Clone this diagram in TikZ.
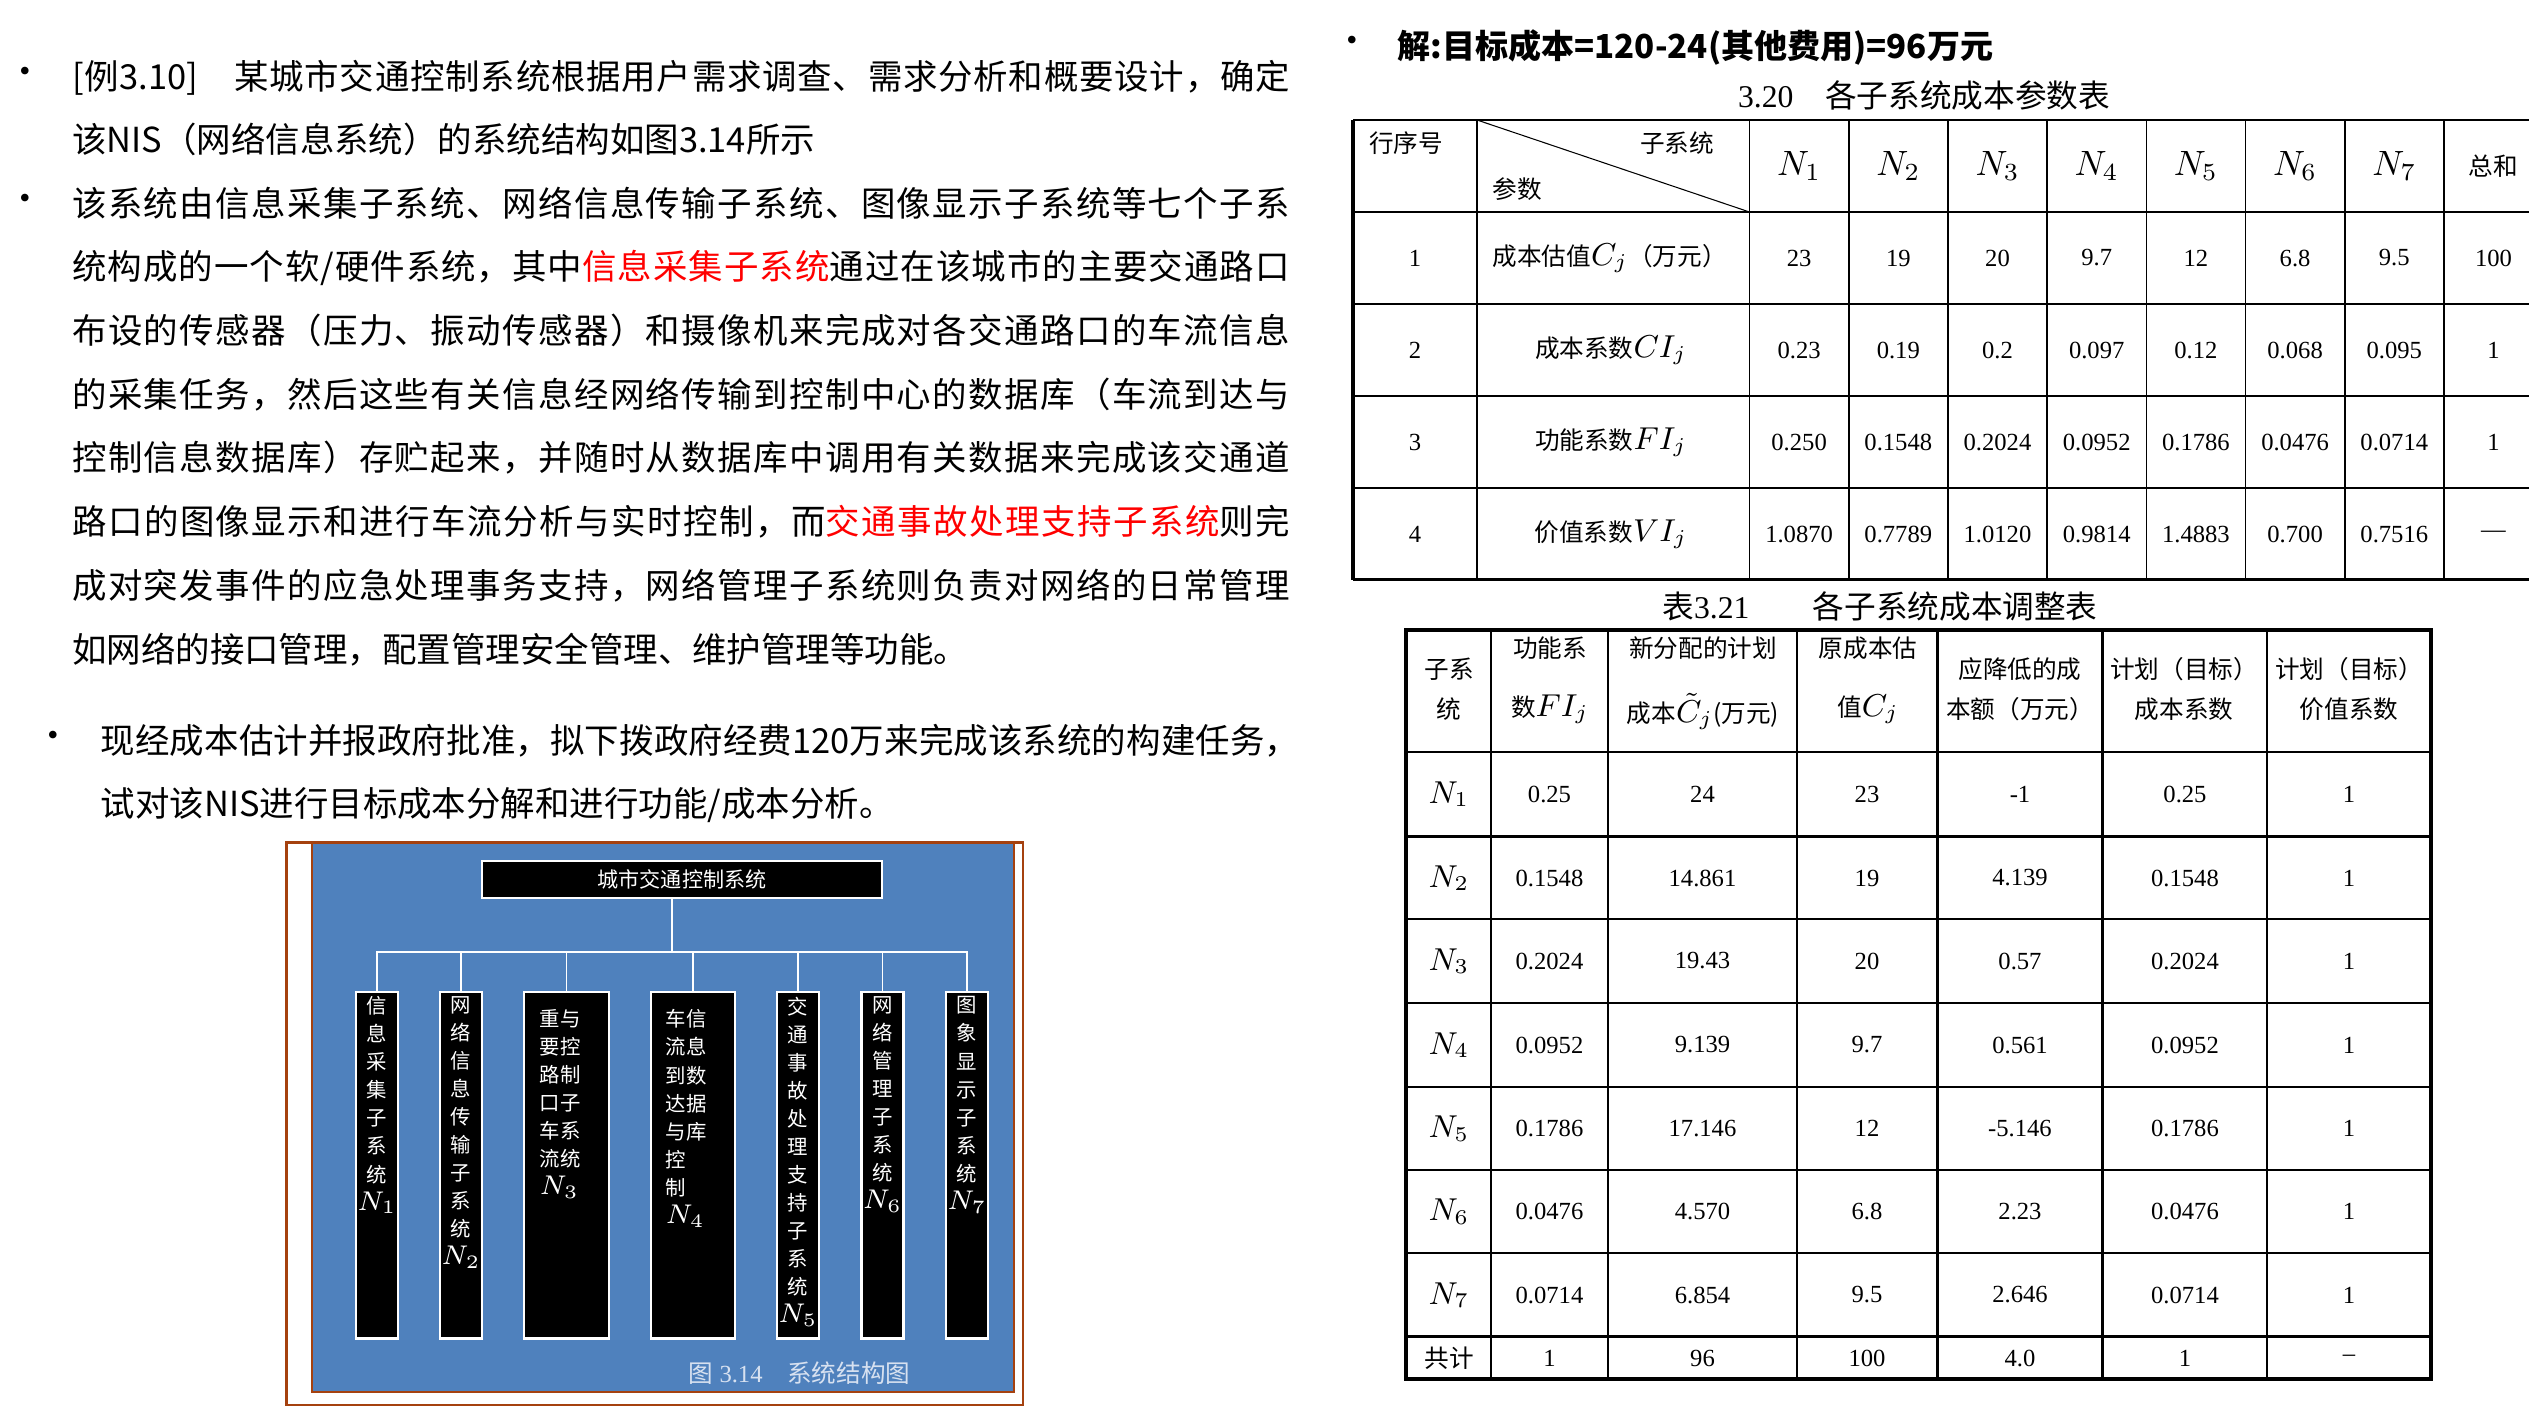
\RequirePackage{fix-cm}
\documentclass[tikz,border=0pt]{standalone}
\usepackage{fontspec}
\setmainfont{Liberation Serif}
\newfontfamily\cjk{Noto Sans CJK SC}
\definecolor{chartblue}{HTML}{4F81BD}
\definecolor{framebrown}{RGB}{165,65,15}
\definecolor{capgray}{RGB}{215,225,240}
% classes and stretch between CJK characters, used for the justified lines
\newcount\cjkcode
\cjkcode="4E00
\loop
  \XeTeXcharclass\cjkcode=1
  \advance\cjkcode by 1
\ifnum\cjkcode<"9FA6
\repeat
\XeTeXcharclass"3000=1
\XeTeXcharclass"FF08=2
\XeTeXcharclass"FF09=3
\XeTeXcharclass"FF0C=3
\XeTeXcharclass"3001=3
\XeTeXcharclass"3002=3
\XeTeXinterchartoks 1 1 = {\hskip 0pt plus 1pt}
\XeTeXinterchartoks 1 2 = {\hskip 0pt plus 1pt}
\XeTeXinterchartoks 1 3 = {\hskip 0pt plus 1pt}
\XeTeXinterchartoks 2 1 = {\hskip 0pt plus 1pt}
\XeTeXinterchartoks 3 1 = {\hskip 0pt plus 1pt}
\XeTeXinterchartoks 3 2 = {\hskip 0pt plus 1pt}
\XeTeXinterchartoks 3 3 = {\hskip 0pt plus 1pt}
\XeTeXinterchartoks 0 1 = {\hskip 0pt plus 1pt}
\XeTeXinterchartoks 1 0 = {\hskip 0pt plus 1pt}
\XeTeXinterchartoks 0 2 = {\hskip 0pt plus 1pt}
\XeTeXinterchartoks 3 0 = {\hskip 0pt plus 1pt}
\newcommand\jline[2]{\hbox to #1{\XeTeXinterchartokenstate=1 #2}}
\newcommand\hot[1]{\textcolor{red}{#1}}
\newcommand\Nsym[1]{{\fontsize{7.7}{7.97}\selectfont$N_{#1}$}}
\newcommand\Nhead[1]{{\fontsize{10}{11}\selectfont$N_{#1}$}}
\newcommand\Nrow[1]{{\fontsize{9}{10}\selectfont$N_{#1}$}}
\newcommand\mbig[1]{{\fontsize{9}{10}\selectfont$#1$}}
\tikzset{every node/.style={inner sep=0pt},
  para/.style={anchor=base west,font=\cjk\fontsize{9.8}{12}\selectfont},
  headline/.style={anchor=base west,font=\cjk\bfseries\fontsize{9.4}{12}\selectfont},
  bul/.style={font=\fontsize{9}{10}\selectfont},
  topbox/.style={draw=white,fill=black,line width=0.7pt,text=white,minimum width=4cm,minimum height=0.37cm,font=\cjk\fontsize{6}{7}\selectfont},
  subbox/.style={draw=white,fill=black,line width=0.7pt,minimum height=3.465cm,anchor=north},
  vtext/.style={anchor=north,align=center,text=white,font=\cjk\fontsize{5.8}{7.97}\selectfont},
  wire/.style={draw=white,line width=0.5pt},
  figcap/.style={text=capgray,font=\fontsize{7}{8}\selectfont},
  capt/.style={font=\fontsize{9}{10}\selectfont},
  tcell/.style={font=\fontsize{7}{8}\selectfont},
  ccell/.style={font=\cjk\fontsize{7}{8}\selectfont},
  tabrule/.style={line width=0.45pt},
  tabmid/.style={line width=0.7pt},
  tabthick/.style={line width=0.9pt}}

\begin{document}
\begin{tikzpicture}[x=0.01cm,y=-0.01cm]
\useasboundingbox (0,0) rectangle (2529,1406);
\fill[white] (0,0) rectangle (2529,1406);

% left text
\node[bul] (b1) at (25,74) {\textbullet};
\node[para] (p1) at (71.5,89) {\jline{12.17cm}{[例3.10]　某城市交通控制系统根据用户需求调查、需求分析和概要设计，确定}};
\node[para] (p2) at (71.5,152) {该NIS（网络信息系统）的系统结构如图3.14所示};
\node[bul] (b2) at (25,201) {\textbullet};
\node[para] (p3) at (71.5,216) {\jline{12.17cm}{该系统由信息采集子系统、网络信息传输子系统、图像显示子系统等七个子系}};
\node[para] (p4) at (71.5,279.5) {\jline{12.17cm}{统构成的一个软/硬件系统，其中\hot{信息采集子系统}通过在该城市的主要交通路口}};
\node[para] (p5) at (71.5,343) {\jline{12.17cm}{布设的传感器（压力、振动传感器）和摄像机来完成对各交通路口的车流信息}};
\node[para] (p6) at (71.5,407) {\jline{12.17cm}{的采集任务，然后这些有关信息经网络传输到控制中心的数据库（车流到达与}};
\node[para] (p7) at (71.5,470.6) {\jline{12.17cm}{控制信息数据库）存贮起来，并随时从数据库中调用有关数据来完成该交通道}};
\node[para] (p8) at (71.5,534) {\jline{12.17cm}{路口的图像显示和进行车流分析与实时控制，而\hot{交通事故处理支持子系统}则完}};
\node[para] (p9) at (71.5,598) {\jline{12.17cm}{成对突发事件的应急处理事务支持，网络管理子系统则负责对网络的日常管理}};
\node[para] (p10) at (71.5,662) {如网络的接口管理，配置管理安全管理、维护管理等功能。};
\node[bul] (b3) at (53,738) {\textbullet};
\node[para] (p11) at (100,753) {\jline{11.98cm}{现经成本估计并报政府批准，拟下拨政府经费120万来完成该系统的构建任务，}};
\node[para] (p12) at (100,816) {试对该NIS进行目标成本分解和进行功能/成本分析。};

% structure chart
\fill[chartblue] (312,842.5) rectangle (1014,1392);
\draw[framebrown,line width=0.6pt] (286.5,842.5) rectangle (1023,1405);
\draw[framebrown,line width=0.6pt] (312,842.5) rectangle (1014,1392);
\node[topbox] (sys) at (682,879.5) {城市交通控制系统};
\foreach \n/\x/\w in {1/377/0.42cm,2/461/0.42cm,3/566.5/0.85cm,4/693/0.84cm,5/798/0.415cm,6/882.5/0.42cm,7/967/0.42cm}
  \node[subbox,minimum width=\w] (n\n) at (\x,990.5) {};
\coordinate (hub) at (672,952);
\draw[wire] (sys.south -| hub) -- (hub);
\draw[wire] (n1.north) |- (hub) -| (n7.north);
\foreach \n in {2,...,6}
  \draw[wire] (n\n.north) -- (n\n.north |- hub);
\node[vtext] (t1) at (377,996) {信\\息\\采\\集\\子\\系\\统\\\Nsym{1}};
\node[vtext] (t2) at (461,996) {网\\络\\信\\息\\传\\输\\子\\系\\统\\\Nsym{2}};
\node[vtext,anchor=north west,align=left] (t3) at (539,1009) {重与\\要控\\路制\\口子\\车系\\流统\\\Nsym{3}};
\node[vtext,anchor=north west,align=left] (t4) at (665,1009) {车信\\流息\\到数\\达据\\与库\\控\\制\\\Nsym{4}};
\node[vtext] (t5) at (798,996) {交\\通\\事\\故\\处\\理\\支\\持\\子\\系\\统\\\Nsym{5}};
\node[vtext] (t6) at (882.5,996) {网\\络\\管\\理\\子\\系\\统\\\Nsym{6}};
\node[vtext] (t7) at (967,996) {图\\象\\显\\示\\子\\系\\统\\\Nsym{7}};
\node[figcap] (cap) at (799.5,1373) {{\cjk 图} 3.14{\cjk 　系统结构图}};

% solution and table 3.20
\node[bul] (b4) at (1352,43) {\textbullet};
\node[headline] (sol) at (1397,58) {解:目标成本=120-24(其他费用)=96万元};
\node[capt] (cap1) at (1924,95) {3.20{\cjk 　各子系统成本参数表}};
\foreach \y in {120,212,304,396,488,579.5}
  \draw[tabmid] (1353,\y) -- (2529,\y);
\draw[tabthick] (1353,120) -- (1353,579.5);
\foreach \x in {1477,1749.5,1848.7,1947.9,2047.1,2146.3,2245.5,2344.7,2443.9}
  \draw[tabrule] (\x,120) -- (\x,579.5);
\draw[line width=0.3pt] (1477,120) -- (1749.5,212);
\node[ccell] (hno) at (1406,143) {行序号};
\node[ccell] (hsub) at (1677,143) {子系统};
\node[ccell] (hpar) at (1517,189) {参数};
\foreach \i in {1,...,7}
  \node[tcell] (hn\i) at ({1799.1+99.2*(\i-1)},166) {\Nhead{\i}};
\node[ccell] (hsum) at (2493.5,166) {总和};
\foreach \r/\y in {1/258,2/350,3/442,4/534}
  \node[tcell] (no\r) at (1415,\y) {\r};
\node[ccell,anchor=west] (lab1) at (1492,258) {成本估值\mbig{C_j}（万元）};
\node[ccell] (lab2) at (1611,350) {成本系数\mbig{CI_j}};
\node[ccell] (lab3) at (1611,442) {功能系数\mbig{FI_j}};
\node[ccell] (lab4) at (1611,534) {价值系数\mbig{VI_j}};
\foreach \v [count=\i] in {23,19,20,9.7,12,6.8,9.5,100}
  \node[tcell] (ca\i) at ({1799.1+99.2*(\i-1)},258) {\v};
\foreach \v [count=\i] in {0.23,0.19,0.2,0.097,0.12,0.068,0.095,1}
  \node[tcell] (cb\i) at ({1799.1+99.2*(\i-1)},350) {\v};
\foreach \v [count=\i] in {0.250,0.1548,0.2024,0.0952,0.1786,0.0476,0.0714,1}
  \node[tcell] (cc\i) at ({1799.1+99.2*(\i-1)},442) {\v};
\foreach \v [count=\i] in {1.0870,0.7789,1.0120,0.9814,1.4883,0.700,0.7516,—}
  \node[tcell] (cd\i) at ({1799.1+99.2*(\i-1)},534) {\v};

% table 3.21
\node[capt] (cap2) at (1880,606) {{\cjk 表}3.21{\cjk 　　各子系统成本调整表}};
\draw[tabthick] (1406,630) rectangle (2431,1379);
\foreach \y in {752,836.5,919,1003,1087,1170,1253,1336.5}
  \draw[tabmid] (1406,\y) -- (2431,\y);
\foreach \x in {1491,1608,1797,1937.5,2102.5,2267}
  \draw[tabmid] (\x,630) -- (\x,1379);
\node[ccell] (ka1) at (1449,669.5) {子系};
\node[ccell] (kb1) at (1449,709) {统};
\node[ccell] (ka2) at (1550,648.5) {功能系};
\node[ccell] (kb2) at (1550,709) {数\mbig{FI_j}};
\node[ccell] (ka3) at (1703,648.5) {新分配的计划};
\node[ccell] (kb3) at (1703,711.7) {成本\mbig{\tilde{C}_j}(万元)};
\node[ccell] (ka4) at (1868,648.5) {原成本估};
\node[ccell] (kb4) at (1868,709) {值\mbig{C_j}};
\node[ccell] (ka5) at (2020,669.5) {应降低的成};
\node[ccell] (kb5) at (2020,709) {本额（万元）};
\node[ccell] (ka6) at (2184,669.5) {计划（目标）};
\node[ccell] (kb6) at (2184,709) {成本系数};
\node[ccell] (ka7) at (2349,669.5) {计划（目标）};
\node[ccell] (kb7) at (2349,709) {价值系数};
\foreach \r/\y/\a/\b/\c/\d/\e in {1/794/0.25/24/23/-1/0.25,2/878/0.1548/14.861/19/4.139/0.1548,3/961/0.2024/19.43/20/0.57/0.2024,4/1045/0.0952/9.139/9.7/0.561/0.0952,5/1128.5/0.1786/17.146/12/-5.146/0.1786,6/1211.5/0.0476/4.570/6.8/2.23/0.0476,7/1295/0.0714/6.854/9.5/2.646/0.0714}{
  \node[tcell] (s\r) at (1449,\y) {\Nrow{\r}};
  \node[tcell] (fa\r) at (1549.5,\y) {\a};
  \node[tcell] (fb\r) at (1702.5,\y) {\b};
  \node[tcell] (fc\r) at (1867,\y) {\c};
  \node[tcell] (fd\r) at (2020,\y) {\d};
  \node[tcell] (fe\r) at (2185,\y) {\e};
  \node[tcell] (ff\r) at (2349,\y) {1};
}
\node[ccell] (sum) at (1449,1358) {共计};
\foreach \x/\v [count=\i] in {1549.5/1,1702.5/96,1867/100,2020/4.0,2185/1,2349/–}
  \node[tcell] (g\i) at (\x,1358) {\v};
\end{tikzpicture}
\end{document}
